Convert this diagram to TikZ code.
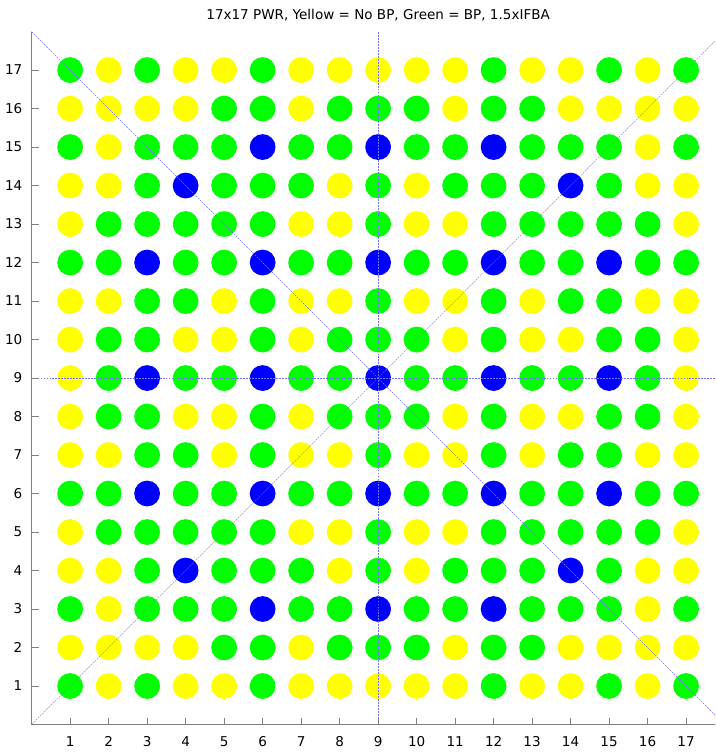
\documentclass[tikz,border=0pt]{standalone}
\usepackage{fontspec}
\setmainfont{DejaVu Sans}
\usepackage{tikz}
\usetikzlibrary{positioning}
\definecolor{rodY}{RGB}{255,255,0}
\definecolor{rodG}{RGB}{0,255,0}
\definecolor{rodB}{RGB}{0,0,255}
\definecolor{axisgray}{RGB}{128,128,128}
\definecolor{guideblue}{RGB}{115,115,255}

\begin{document}
\begin{tikzpicture}[
  rod/.style={circle, inner sep=0pt, minimum size=0.67cm},
  guide/.style={guideblue, line width=0.35pt, dash pattern=on 1.4pt off 0.8pt},
  axisline/.style={axisgray, line width=0.6pt},
  ticklabel/.style={font=\fontsize{10}{12}\selectfont, text=black}
]
\clip (-0.822,-0.74) rectangle (17.752,18.82);

\coordinate (o) at (0,0);
\coordinate (tl) at (0,18);
\coordinate (br) at (18,0);
\coordinate (tr) at (18,18);
\coordinate (midtop) at (9,18);
\coordinate (midbot) at (9,0);
\coordinate (midleft) at (0,9);
\coordinate (midright) at (18,9);

\node[font=\fontsize{10}{12}\selectfont] (title) at (9,18.43) {17x17 PWR, Yellow = No BP, Green = BP, 1.5xIFBA};

% rod map, row by row from the top
\foreach \r/\cells in {
  17/{G,Y,G,Y,Y,G,Y,Y,Y,Y,Y,G,Y,Y,G,Y,G},
  16/{Y,Y,Y,Y,G,G,Y,G,G,G,Y,G,G,Y,Y,Y,Y},
  15/{G,Y,G,G,G,B,G,G,B,G,G,B,G,G,G,Y,G},
  14/{Y,Y,G,B,G,G,G,Y,G,Y,G,G,G,B,G,Y,Y},
  13/{Y,G,G,G,G,G,Y,Y,G,Y,Y,G,G,G,G,G,Y},
  12/{G,G,B,G,G,B,G,G,B,G,G,B,G,G,B,G,G},
  11/{Y,Y,G,G,Y,G,Y,Y,G,Y,Y,G,Y,G,G,Y,Y},
  10/{Y,G,G,Y,Y,G,Y,G,G,G,Y,G,Y,Y,G,G,Y},
  9/{Y,G,B,G,G,B,G,G,B,G,G,B,G,G,B,G,Y},
  8/{Y,G,G,Y,Y,G,Y,G,G,G,Y,G,Y,Y,G,G,Y},
  7/{Y,Y,G,G,Y,G,Y,Y,G,Y,Y,G,Y,G,G,Y,Y},
  6/{G,G,B,G,G,B,G,G,B,G,G,B,G,G,B,G,G},
  5/{Y,G,G,G,G,G,Y,Y,G,Y,Y,G,G,G,G,G,Y},
  4/{Y,Y,G,B,G,G,G,Y,G,Y,G,G,G,B,G,Y,Y},
  3/{G,Y,G,G,G,B,G,G,B,G,G,B,G,G,G,Y,G},
  2/{Y,Y,Y,Y,G,G,Y,G,G,G,Y,G,G,Y,Y,Y,Y},
  1/{G,Y,G,Y,Y,G,Y,Y,Y,Y,Y,G,Y,Y,G,Y,G}} {
  \foreach \c [count=\i] in \cells {
    \node[rod, fill=rod\c] (rod-\r-\i) at (\i,\r) {};
  }
}

% symmetry lines
\draw[guide] (o) -- (tr);
\draw[guide] (tl) -- (br);
\draw[guide] (midbot) -- (midtop);
\draw[guide] (midleft) -- (midright);

% axes
\draw[axisline] (tl) -- (o) -- (br);
\foreach \k in {1,...,17} {
  \draw[axisline] (\k,0) -- (\k,0.18);
  \draw[axisline] (0,\k) -- (0.18,\k);
  \node[ticklabel, anchor=north] (xlab-\k) at (\k,-0.18) {\k};
  \node[ticklabel, anchor=east] (ylab-\k) at (-0.12,\k) {\k};
}
\end{tikzpicture}
\end{document}
